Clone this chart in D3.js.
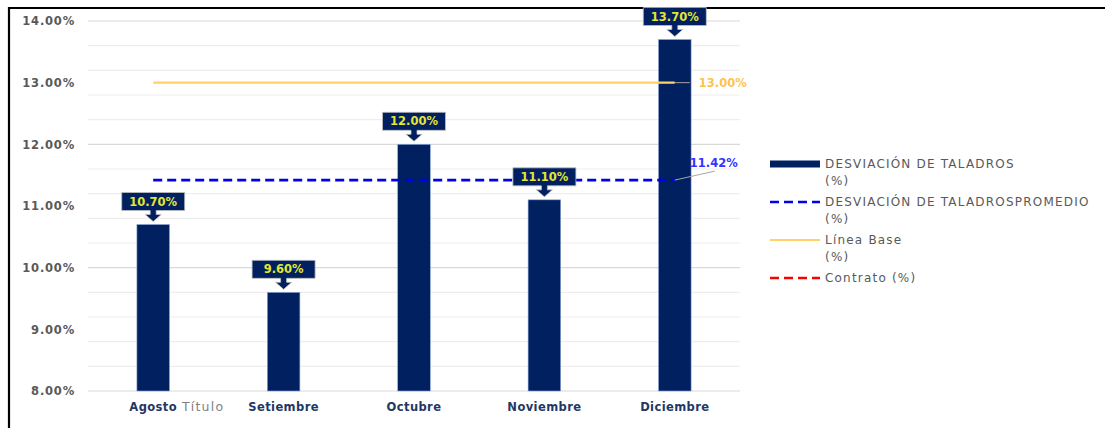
<!DOCTYPE html>
<html>
<head>
<meta charset="utf-8">
<script src="https://cdn.jsdelivr.net/npm/d3@7"></script>
<style>
  html, body { margin: 0; padding: 0; background: #fff; }
  svg { display: block; }
</style>
</head>
<body>
<svg id="chart" width="1105" height="428"></svg>
<script>
// Monthly drill-hole deviation (%)
const months = ["Agosto", "Setiembre", "Octubre", "Noviembre", "Diciembre"];
const deviation = [10.70, 9.60, 12.00, 11.10, 13.70];
const deviationAvg = 11.42;
const baseline = 13.00;
const yTicks = [8, 9, 10, 11, 12, 13, 14];
const gridStep = 0.4;
const legendItems = [
  { lines: ["DESVIACIÓN DE TALADROS", "(%)"], type: "bar", color: "#002060" },
  { lines: ["DESVIACIÓN DE TALADROSPROMEDIO", "(%)"], type: "dash", color: "#0000ee" },
  { lines: ["Línea Base", "(%)"], type: "line", color: "#ffd166" },
  { lines: ["Contrato (%)"], type: "dash", color: "#ff0000" }
];

const font = "'DejaVu Sans', 'Liberation Sans', sans-serif";
const svg = d3.select("#chart");

// frame edges (top and left)
svg.append("line").attr("x1", 9).attr("x2", 1105).attr("y1", 8).attr("y2", 8)
  .attr("stroke", "#000").attr("stroke-width", 2.2);
svg.append("line").attr("x1", 9).attr("x2", 9).attr("y1", 7).attr("y2", 428)
  .attr("stroke", "#000").attr("stroke-width", 2.2);

const plot = { left: 88, right: 740, top: 21, bottom: 391 };

const x = d3.scaleBand().domain(months).range([plot.left, plot.right]).paddingInner(0.75).paddingOuter(0.375);
const y = d3.scaleLinear().domain([8, 14]).range([plot.bottom, plot.top]);

// gridlines
const gridVals = d3.range(0, 16).map(i => +(8 + i * gridStep).toFixed(2));
svg.append("g").selectAll("line").data(gridVals).join("line")
  .attr("x1", plot.left).attr("x2", plot.right)
  .attr("y1", d => y(d)).attr("y2", d => y(d))
  .attr("stroke", d => (Math.abs(d % 2) < 1e-6 ? "#d9d9d9" : "#eeeeee"))
  .attr("stroke-width", 1.2);

// y axis labels
const yAxis = d3.axisLeft(y).tickValues(yTicks).tickFormat(d => d.toFixed(2) + "%").tickSize(0).tickPadding(0);
const yg = svg.append("g").attr("transform", `translate(${plot.left - 13},0)`).call(yAxis);
yg.select(".domain").remove();
yg.selectAll("text").attr("font-family", font).attr("font-weight", "bold")
  .attr("font-size", 11.5).attr("letter-spacing", 0.8).attr("fill", "#595959");

// x axis labels
const xAxis = d3.axisBottom(x).tickSize(0).tickPadding(0);
const xg = svg.append("g").attr("transform", `translate(0,${plot.bottom + 10})`).call(xAxis);
xg.select(".domain").remove();
xg.selectAll("text").attr("font-family", font).attr("font-weight", "bold")
  .attr("font-size", 11.5).attr("letter-spacing", 0.4).attr("fill", "#1f3864").attr("dy", "0.9em");

// axis title
svg.append("text").attr("x", 182).attr("y", 411).attr("font-family", font)
  .attr("font-size", 12.5).attr("letter-spacing", 1.2).attr("fill", "#7f7f7f").text("Título");

// bars
svg.append("g").selectAll("rect").data(months).join("rect")
  .attr("x", d => x(d)).attr("width", x.bandwidth())
  .attr("y", (d, i) => y(deviation[i]))
  .attr("height", (d, i) => y(8) - y(deviation[i]))
  .attr("fill", "#002060").attr("stroke", "#8ea9db").attr("stroke-width", 0.6);

// baseline line
const lineStart = x(months[0]) + x.bandwidth() / 2;
const lineEnd = x(months[months.length - 1]) + x.bandwidth() / 2;
svg.append("line").attr("x1", lineStart).attr("x2", lineEnd)
  .attr("y1", y(baseline)).attr("y2", y(baseline))
  .attr("stroke", "#ffd166").attr("stroke-width", 2.2);
svg.append("line").attr("x1", lineEnd).attr("x2", lineEnd + 15)
  .attr("y1", y(baseline)).attr("y2", y(baseline))
  .attr("stroke", "#a6a6a6").attr("stroke-width", 1);
svg.append("text").attr("x", lineEnd + 24).attr("y", y(baseline)).attr("dy", "0.35em")
  .attr("font-family", font).attr("font-weight", "bold").attr("font-size", 11.5)
  .attr("fill", "#ffc34d").text(baseline.toFixed(2) + "%");

// average dashed line
svg.append("line").attr("x1", lineStart).attr("x2", lineEnd)
  .attr("y1", y(deviationAvg)).attr("y2", y(deviationAvg))
  .attr("stroke", "#0000ee").attr("stroke-width", 2.6).attr("stroke-dasharray", "9,5");
svg.append("line").attr("x1", lineEnd).attr("x2", lineEnd + 40)
  .attr("y1", y(deviationAvg)).attr("y2", y(deviationAvg) - 9)
  .attr("stroke", "#a6a6a6").attr("stroke-width", 1);
svg.append("text").attr("x", lineEnd + 15).attr("y", y(deviationAvg) - 17).attr("dy", "0.35em")
  .attr("font-family", font).attr("font-weight", "bold").attr("font-size", 11.5)
  .attr("fill", "#3333ff").text(deviationAvg.toFixed(2) + "%");

// value callouts
const callouts = svg.append("g").selectAll("g").data(months).join("g")
  .attr("transform", (d, i) => `translate(${x(d) + x.bandwidth() / 2},${y(deviation[i])})`);
const bw = 63, bh = 18;
callouts.append("path")
  .attr("d", `M${-bw / 2},${-32} h${bw} v${bh} h${-(bw / 2 - 3)} v4 h5 l-8,7 l-8,-7 h5 v-4 h${-(bw / 2 - 3)} Z`)
  .attr("fill", "#002060").attr("stroke", "#bfbfbf").attr("stroke-width", 0.8);
callouts.append("text").attr("y", -23).attr("dy", "0.35em").attr("text-anchor", "middle")
  .attr("font-family", font).attr("font-weight", "bold").attr("font-size", 11.5)
  .attr("fill", "#e6e62e").text((d, i) => deviation[i].toFixed(2) + "%");

// legend
const legendY = [164, 202, 240, 278];
const lg = svg.append("g").selectAll("g").data(legendItems).join("g")
  .attr("transform", (d, i) => `translate(770,${legendY[i]})`);
lg.each(function (d) {
  const g = d3.select(this);
  if (d.type === "bar") {
    g.append("rect").attr("x", 0).attr("y", -3.5).attr("width", 50).attr("height", 7).attr("fill", d.color);
  } else if (d.type === "dash") {
    g.append("line").attr("x1", 0).attr("x2", 50).attr("y1", 0).attr("y2", 0)
      .attr("stroke", d.color).attr("stroke-width", 2.6).attr("stroke-dasharray", "9,5");
  } else {
    g.append("line").attr("x1", 0).attr("x2", 50).attr("y1", 0).attr("y2", 0)
      .attr("stroke", d.color).attr("stroke-width", 2.2);
  }
  g.append("g").selectAll("text").data(d.lines).join("text")
    .attr("x", 55).attr("y", (t, j) => j * 17).attr("dy", "0.35em")
    .attr("font-family", font).attr("font-size", 12).attr("letter-spacing", 1.2).attr("fill", "#595959")
    .text(t => t);
});
</script>
</body>
</html>
